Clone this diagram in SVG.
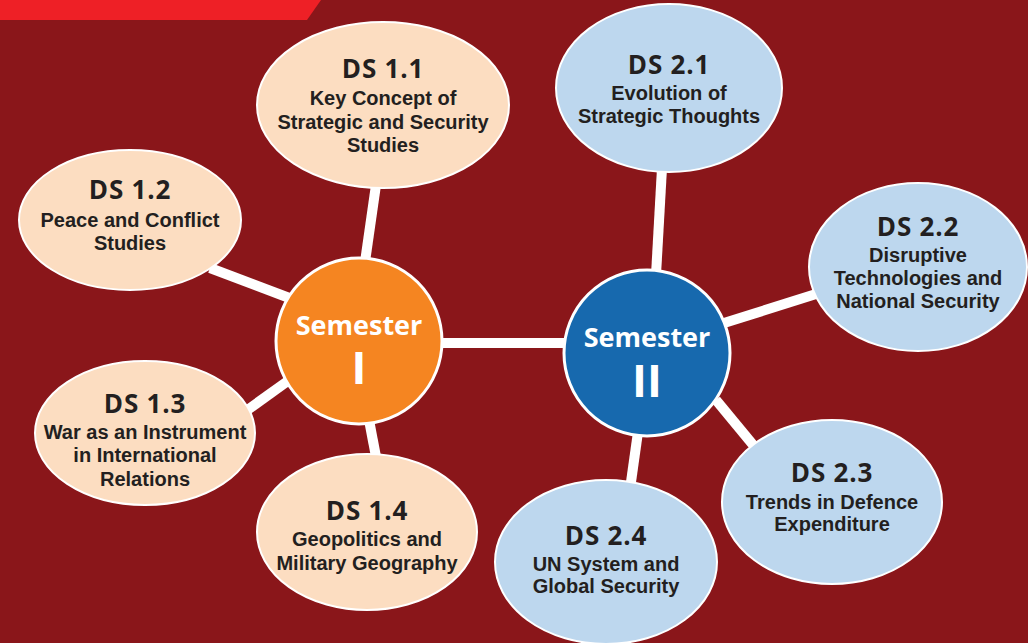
<svg xmlns="http://www.w3.org/2000/svg" width="1028" height="643" viewBox="0 0 1028 643">
<style>
.conn line{stroke:#fff;stroke-width:10;stroke-linecap:butt}
.p{fill:#FCDDC1;stroke:#fff;stroke-width:2}
.b{fill:#BDD7EE;stroke:#fff;stroke-width:2}
.t{font-family:"Open Sans","Noto Sans",sans-serif;font-weight:bold;font-size:26px;letter-spacing:0.8px;fill:#231F20;text-anchor:middle}
.s{font-family:"Liberation Sans",Arial,sans-serif;font-weight:bold;font-size:20px;fill:#231F20;text-anchor:middle}
.sem{font-family:"Open Sans","Noto Sans",sans-serif;font-weight:bold;fill:#fff;text-anchor:middle}
</style>
<rect width="1028" height="643" fill="#8A161A"/>
<polygon points="0,0 321,0 307,20 0,20" fill="#EE2026"/>
<g class="conn">
<line x1="365" y1="262" x2="376" y2="185"/>
<line x1="210" y1="268" x2="292" y2="299"/>
<line x1="246" y1="411" x2="292" y2="378"/>
<line x1="369" y1="420" x2="377" y2="462"/>
<line x1="438" y1="343" x2="568" y2="343"/>
<line x1="662" y1="168" x2="656" y2="275"/>
<line x1="724" y1="323" x2="816" y2="294"/>
<line x1="716" y1="400" x2="754" y2="446"/>
<line x1="638" y1="432" x2="631" y2="482"/>
</g>
<g id="sem1">
<circle cx="359" cy="341" r="83" fill="#F58521" stroke="#fff" stroke-width="3"/>
<text class="sem" x="359" y="335" font-size="27">Semester</text>
<text class="sem" x="359" y="384" font-size="45">I</text>
</g>
<g id="sem2">
<circle cx="647" cy="353" r="83" fill="#1769AE" stroke="#fff" stroke-width="3"/>
<text class="sem" x="647" y="347" font-size="27">Semester</text>
<text class="sem" x="647" y="397" font-size="45">II</text>
</g>
<g id="ds11">
<ellipse class="p" cx="383" cy="105" rx="126" ry="83"/>
<text class="t" x="383" y="78">DS 1.1</text>
<text class="s" x="383" y="105">Key Concept of</text>
<text class="s" x="383" y="129">Strategic and Security</text>
<text class="s" x="383" y="152">Studies</text>
</g>
<g id="ds12">
<ellipse class="p" cx="130" cy="220" rx="111" ry="70"/>
<text class="t" x="130" y="199">DS 1.2</text>
<text class="s" x="130" y="227">Peace and Conflict</text>
<text class="s" x="130" y="250">Studies</text>
</g>
<g id="ds13">
<ellipse class="p" cx="145" cy="433" rx="110" ry="72"/>
<text class="t" x="145" y="413">DS 1.3</text>
<text class="s" x="145" y="439">War as an Instrument</text>
<text class="s" x="145" y="462">in International</text>
<text class="s" x="145" y="486">Relations</text>
</g>
<g id="ds14">
<ellipse class="p" cx="367" cy="532" rx="110" ry="78"/>
<text class="t" x="367" y="520">DS 1.4</text>
<text class="s" x="367" y="546">Geopolitics and</text>
<text class="s" x="367" y="570">Military Geography</text>
</g>
<g id="ds21">
<ellipse class="b" cx="669" cy="88" rx="113" ry="84"/>
<text class="t" x="669" y="74">DS 2.1</text>
<text class="s" x="669" y="100">Evolution of</text>
<text class="s" x="669" y="123">Strategic Thoughts</text>
</g>
<g id="ds22">
<ellipse class="b" cx="918" cy="267" rx="109" ry="84"/>
<text class="t" x="918" y="236">DS 2.2</text>
<text class="s" x="918" y="262">Disruptive</text>
<text class="s" x="918" y="285">Technologies and</text>
<text class="s" x="918" y="308">National Security</text>
</g>
<g id="ds23">
<ellipse class="b" cx="832" cy="502" rx="110" ry="82"/>
<text class="t" x="832" y="482">DS 2.3</text>
<text class="s" x="832" y="509">Trends in Defence</text>
<text class="s" x="832" y="531">Expenditure</text>
</g>
<g id="ds24">
<ellipse class="b" cx="606" cy="562" rx="111" ry="82"/>
<text class="t" x="606" y="545">DS 2.4</text>
<text class="s" x="606" y="571">UN System and</text>
<text class="s" x="606" y="593">Global Security</text>
</g>
</svg>
